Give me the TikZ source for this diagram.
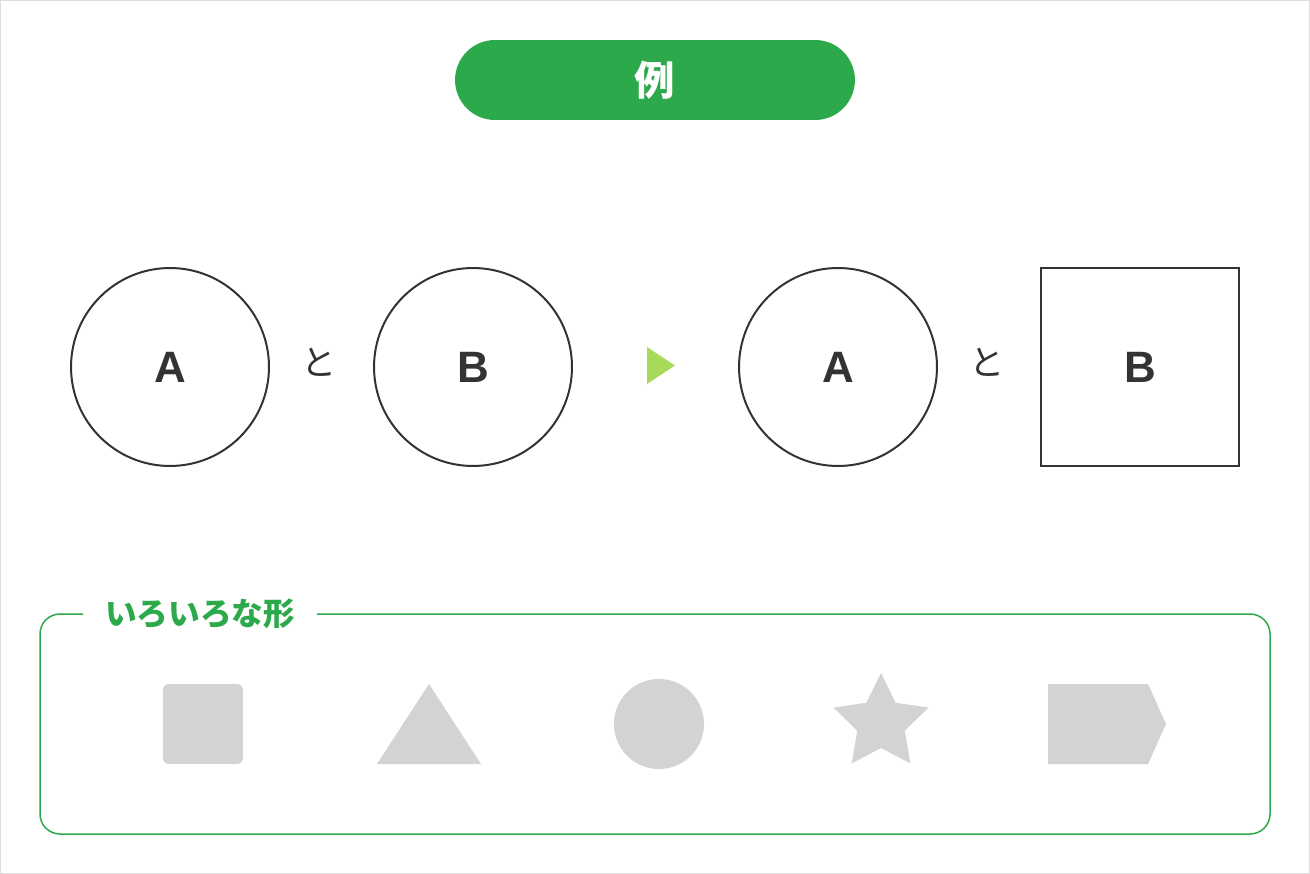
\documentclass[tikz,border=0pt]{standalone}
\usepackage{fontspec}
\setmainfont{Noto Sans CJK JP}
\newfontfamily\letterfont{Liberation Sans}
\definecolor{exgreen}{HTML}{2CA94A}
\definecolor{ink}{HTML}{333333}
\definecolor{arrowgreen}{HTML}{A8DA5A}
\definecolor{shapegray}{HTML}{D3D3D3}
\definecolor{framegray}{HTML}{DDDDDD}
\tikzset{
  shp/.style={draw=ink, line width=0.04cm, minimum size=3.96cm, inner sep=0pt,
    font=\letterfont\bfseries\fontsize{25}{25}\selectfont, text=ink},
  andword/.style={text=ink, inner sep=0pt, font=\fontsize{20}{20}\selectfont},
  grayshape/.style={fill=shapegray, inner sep=0pt},
}
\begin{document}
\begin{tikzpicture}[x=0.02cm, y=-0.02cm]
            \useasboundingbox (0,0) rectangle (1310,874);
            \draw[framegray, line width=0.02cm] (0.5,0.5) rectangle (1309.5,873.5);

            % title
            \node[fill=exgreen, rounded corners=0.8cm, minimum width=8cm, minimum height=1.6cm,
                text=white, font=\bfseries\fontsize{23}{23}\selectfont] (title) at (655,80) {例};

            % before
            \node[shp, circle] (a1) at (170,367) {A};
            \node[andword] (to1) at (319,362) {と};
            \node[shp, circle] (b1) at (473,367) {B};

            \fill[arrowgreen] (647,347) -- (675,365.5) -- (647,384) -- cycle;

            % after
            \node[shp, circle] (a2) at (838,367) {A};
            \node[andword] (to2) at (987,362) {と};
            \node[shp, rectangle] (b2) at (1140,367) {B};

            % legend
            \draw[exgreen, line width=0.03cm, rounded corners=0.4cm] (40,614) rectangle (1270,834);
            \node[fill=white, inner xsep=0.44cm, text=exgreen,
                font=\bfseries\fontsize{18}{18}\selectfont] (kinds) at (200,614) {いろいろな形};

            \node[grayshape, rounded corners=0.12cm, minimum size=1.6cm] (sq) at (203,724) {};
            \fill[shapegray] (377,764) -- (429,684) -- (481,764) -- cycle;
            \node[grayshape, circle, minimum size=1.8cm] (ci) at (659,724) {};
            \begin{scope}[shift={(881,723)}]
                \fill[shapegray] (-90:50) -- (-126:25) -- (-162:50) -- (-198:25) -- (-234:50)
                    -- (-270:25) -- (-306:50) -- (-342:25) -- (-18:50) -- (-54:25) -- cycle;
            \end{scope}
            \fill[shapegray] (1048,684) -- (1148,684) -- (1166,724) -- (1148,764) -- (1048,764) -- cycle;
        \end{tikzpicture}
\end{document}
